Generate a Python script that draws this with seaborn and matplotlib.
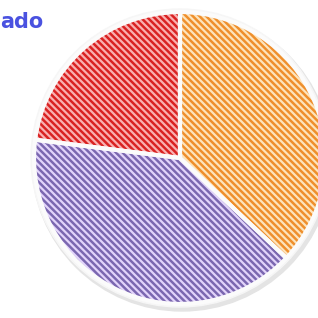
import matplotlib
matplotlib.use("Agg")
import matplotlib.pyplot as plt
import seaborn as sns

# Data
labels = ["Naranja", "Morado", "Rojo"]
values = [37, 40, 23]
face_colors = ["#ef8f2c", "#7b67b0", "#d92222"]
hatch_colors = ["#fde4bc", "#e2d4fa", "#f9b0b0"]

sns.set_theme(style="white")
plt.rcParams["font.family"] = ["DejaVu Sans"]
plt.rcParams["hatch.linewidth"] = 1.6

fig = plt.figure(figsize=(3.18, 3.18), dpi=100)
ax = fig.add_axes([0, 0, 1, 1])

center = (180, 160)
radius = 146

# soft shadow / rim
ax.add_patch(plt.Circle((center[0] + 2, center[1] - 3), radius + 4,
                        color="#e4e4e4", zorder=0))
ax.add_patch(plt.Circle(center, radius + 3, color="#f6f6f6", zorder=0.5))

wedges, _ = ax.pie(values, colors=face_colors, startangle=90, counterclock=False,
                   center=center, radius=radius, frame=True,
                   wedgeprops=dict(linewidth=0))
for w, hc in zip(wedges, hatch_colors):
    w.set_edgecolor(hc)
    w.set_hatch("\\\\\\\\\\")
    w.set_linewidth(0)

# white separators on top
ax.pie(values, colors=["none"] * 3, startangle=90, counterclock=False,
       center=center, radius=radius, frame=True,
       wedgeprops=dict(linewidth=3, edgecolor="#fbfbfb", fill=False))

ax.set_xlim(0, 318)
ax.set_ylim(0, 318)
ax.set_aspect("equal")
ax.axis("off")

fig.text(0.0, 0.93, "ado", color="#4a52e0", fontsize=15, fontweight="bold",
         ha="left", va="center")

fig.savefig("out.png", dpi=100)
